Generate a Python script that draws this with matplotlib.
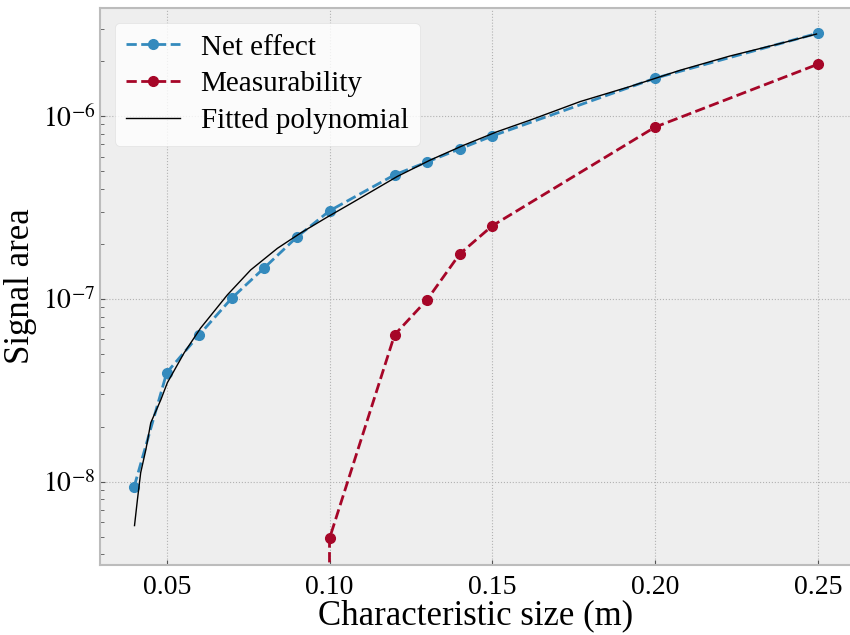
import numpy as np
import matplotlib
matplotlib.use('Agg')
import matplotlib.pyplot as plt

plt.style.use('bmh')
plt.rcParams['font.family'] = ['Liberation Serif', 'DejaVu Serif']
plt.rcParams['mathtext.fontset'] = 'stix'

# measured points
size = [0.04, 0.05, 0.06, 0.07, 0.08, 0.09, 0.10, 0.12, 0.13, 0.14, 0.15, 0.20, 0.25]
net_effect = [9.4e-9, 3.95e-8, 6.36e-8, 1.01e-7, 1.48e-7, 2.18e-7, 3.03e-7,
              4.77e-7, 5.61e-7, 6.61e-7, 7.78e-7, 1.61e-6, 2.84e-6]
measurability = [0, 0, 0, 0, 0, 0, 4.89e-9,
                 6.36e-8, 9.9e-8, 1.76e-7, 2.51e-7, 8.7e-7, 1.92e-6]

# fitted curve
fit_x = [0.0401, 0.0410, 0.0420, 0.0436, 0.0451, 0.0482, 0.0502, 0.0553, 0.0604,
         0.0686, 0.0758, 0.0840, 0.0911, 0.0993, 0.1064, 0.1105, 0.1208, 0.1310,
         0.1412, 0.1514, 0.1617, 0.1770, 0.1923, 0.2077, 0.2230, 0.2383, 0.2496]
fit_y = [5.75e-9, 7.98e-9, 1.12e-8, 1.50e-8, 2.10e-8, 2.81e-8, 3.48e-8, 5.05e-8, 6.92e-8,
         1.05e-7, 1.44e-7, 1.89e-7, 2.29e-7, 2.80e-7, 3.31e-7, 3.65e-7, 4.67e-7, 5.75e-7,
         6.92e-7, 8.20e-7, 9.51e-7, 1.20e-6, 1.45e-6, 1.78e-6, 2.13e-6, 2.49e-6, 2.81e-6]

fig = plt.figure(figsize=(8.5, 6.35), dpi=100)
ax = fig.add_axes([100 / 850, 1 - 565 / 635, 752 / 850, 557 / 635])

ax.plot(size, net_effect, '--o', color='#348ABD', lw=2, ms=7, label='Net effect')
ax.plot(size, measurability, '--o', color='#A60628', lw=2, ms=7, label='Measurability')
ax.plot(fit_x, fit_y, '-', color='black', lw=1, label='Fitted polynomial')

ax.set_yscale('log')
ax.set_xlim(0.0295, 0.2605)
ax.set_ylim(3.5e-9, 3.9e-6)
ax.set_xticks([0.05, 0.10, 0.15, 0.20, 0.25])
ax.set_xticklabels(['0.05', '0.10', '0.15', '0.20', '0.25'])
ax.set_yticks([1e-8, 1e-7, 1e-6])
ax.set_yticklabels(['$10^{-8}$', '$10^{-7}$', '$10^{-6}$'])

ax.grid(True, which='major', linestyle=':', color='#b2b2b2', lw=0.8)
ax.tick_params(which='both', direction='in', labelsize=20, colors='#555555',
               labelcolor='black')
ax.tick_params(axis='x', pad=7)
ax.tick_params(which='minor', length=3)
for sp in ax.spines.values():
    sp.set_color('#bcbcbc')
    sp.set_linewidth(1.5)

ax.set_xlabel('Characteristic size (m)', fontsize=25, labelpad=0)
ax.set_ylabel('Signal area', fontsize=25, labelpad=4)

leg = ax.legend(loc='upper left', fontsize=21, frameon=True, fancybox=True,
                facecolor='white', framealpha=0.8, handlelength=1.85,
                handletextpad=0.7, labelspacing=0.35, borderpad=0.4)
leg.get_frame().set_edgecolor('#dddddd')

fig.savefig('out.png', dpi=100, facecolor='white')
